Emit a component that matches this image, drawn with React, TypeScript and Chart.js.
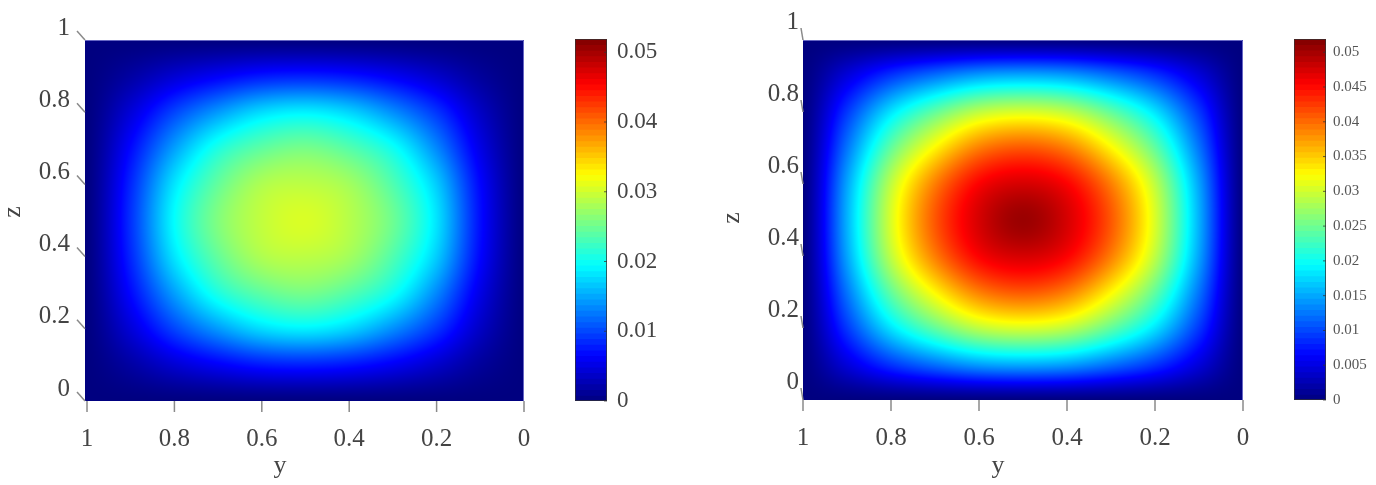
import React, { useEffect, useRef } from "react";
import { Chart, registerables } from "chart.js";
Chart.register(...registerables);

const FONT = "'Liberation Serif'";
const TEXT = "#444444";
const COLOR_MAX = 0.0519;
const LEVELS = 64;

const axisTicks = [0, 0.2, 0.4, 0.6, 0.8, 1];
const leftBarTicks = [0, 0.01, 0.02, 0.03, 0.04, 0.05];
const rightBarTicks = [0, 0.005, 0.01, 0.015, 0.02, 0.025, 0.03, 0.035, 0.04, 0.045, 0.05];

// rows: z = 1 ... 0 (step 0.1); columns: y = 1 ... 0 (step 0.1); values in 1e-3
const leftField = [
  [0, 0, 0, 0, 0, 0, 0, 0, 0, 0, 0],
  [0, 1.8, 4.2, 6.1, 7.6, 8, 7.4, 5.9, 3.8, 1.4, 0],
  [0, 4.5, 9.9, 14.3, 17.7, 18.8, 17.3, 13.7, 9.1, 3.5, 0],
  [0, 6.8, 14.6, 20.9, 24.25, 25.5, 23.75, 20.1, 13.4, 5.2, 0],
  [0, 8.35, 18.15, 24.5, 28.3, 29, 27.7, 23.5, 16.85, 6.65, 0],
  [0, 8.9, 19.5, 26, 29.3, 30.5, 28.7, 25, 18.1, 7.1, 0],
  [0, 8.35, 18.15, 24.5, 28.3, 29, 27.7, 23.5, 16.85, 6.65, 0],
  [0, 6.8, 14.6, 20.9, 24.25, 25.5, 23.75, 20.1, 13.4, 5.2, 0],
  [0, 4.5, 9.9, 14.3, 17.7, 18.8, 17.3, 13.7, 9.1, 3.5, 0],
  [0, 1.8, 4.2, 6.1, 7.6, 8, 7.4, 5.9, 3.8, 1.4, 0],
  [0, 0, 0, 0, 0, 0, 0, 0, 0, 0, 0],
];
const rightField = [
  [0, 0, 0, 0, 0, 0, 0, 0, 0, 0, 0],
  [0, 4.7, 9.2, 12.4, 14.8, 15.5, 14.8, 12.4, 9.2, 4.7, 0],
  [0, 9.2, 18.1, 24.4, 29.1, 30.5, 29.1, 24.4, 18.1, 9.2, 0],
  [0, 12.4, 24.4, 32.8, 39, 41, 39, 32.8, 24.4, 12.4, 0],
  [0, 14.8, 29.1, 39, 45.5, 47.5, 45.5, 39, 29.1, 14.8, 0],
  [0, 15.5, 30.5, 41, 47.5, 50.5, 47.5, 41, 30.5, 15.5, 0],
  [0, 14.8, 29.1, 39, 45.5, 47.5, 45.5, 39, 29.1, 14.8, 0],
  [0, 12.4, 24.4, 32.8, 39, 41, 39, 32.8, 24.4, 12.4, 0],
  [0, 9.2, 18.1, 24.4, 29.1, 30.5, 29.1, 24.4, 18.1, 9.2, 0],
  [0, 4.7, 9.2, 12.4, 14.8, 15.5, 14.8, 12.4, 9.2, 4.7, 0],
  [0, 0, 0, 0, 0, 0, 0, 0, 0, 0, 0],
];

function jet(t: number): [number, number, number] {
  const c = (x: number) => Math.max(0, Math.min(1, x));
  const r = c(Math.min(4 * t - 1.5, -4 * t + 4.5));
  const g = c(Math.min(4 * t - 0.5, -4 * t + 3.5));
  const b = c(Math.min(4 * t + 0.5, -4 * t + 2.5));
  return [Math.round(r * 255), Math.round(g * 255), Math.round(b * 255)];
}

function levelColor(i: number) {
  const [r, g, b] = jet((i + 0.5) / LEVELS);
  return `rgb(${r},${g},${b})`;
}

function cr(a: number, b: number, c: number, d: number, t: number) {
  return 0.5 * (2 * b + (c - a) * t + (2 * a - 5 * b + 4 * c - d) * t * t + (3 * b - a - 3 * c + d) * t * t * t);
}

function sampleField(f: number[][], col: number, row: number) {
  const n = f.length - 1;
  const m = f[0].length - 1;
  const c0 = Math.max(0, Math.min(m - 1, Math.floor(col)));
  const r0 = Math.max(0, Math.min(n - 1, Math.floor(row)));
  const tc = Math.max(0, Math.min(1, col - c0));
  const tr = Math.max(0, Math.min(1, row - r0));
  const at = (r: number, c: number) => f[Math.max(0, Math.min(n, r))][Math.max(0, Math.min(m, c))];
  const rows = [-1, 0, 1, 2].map((dr) =>
    cr(at(r0 + dr, c0 - 1), at(r0 + dr, c0), at(r0 + dr, c0 + 1), at(r0 + dr, c0 + 2), tc)
  );
  return Math.max(0, cr(rows[0], rows[1], rows[2], rows[3], tr));
}

const heatPlugin = {
  id: "heat",
  beforeDatasetsDraw(chart: any) {
    const { left, top, right, bottom } = chart.chartArea;
    const w = Math.round(right - left);
    const h = Math.round(bottom - top);
    const off = document.createElement("canvas");
    off.width = w;
    off.height = h;
    const octx = off.getContext("2d")!;
    const img = octx.createImageData(w, h);
    const field: number[][] = chart.data.datasets[0].field;
    const xs = chart.scales.x;
    const ys = chart.scales.y;
    const n = field.length - 1;
    const m = field[0].length - 1;
    for (let py = 0; py < h; py++) {
      const z = ys.getValueForPixel(top + py + 0.5);
      for (let px = 0; px < w; px++) {
        const yv = xs.getValueForPixel(left + px + 0.5);
        const v = sampleField(field, (1 - yv) * m, (1 - z) * n) / 1000;
        const [r, g, b] = jet(Math.min(1, v / COLOR_MAX));
        const k = (py * w + px) * 4;
        img.data[k] = r;
        img.data[k + 1] = g;
        img.data[k + 2] = b;
        img.data[k + 3] = 255;
      }
    }
    octx.putImageData(img, 0, 0);
    chart.ctx.drawImage(off, left, top);
  },
  afterDraw(chart: any, _a: any, opts: any) {
    const ctx = chart.ctx;
    const { left, top, right, bottom } = chart.chartArea;
    const xs = chart.scales.x;
    const ys = chart.scales.y;
    ctx.save();
    ctx.strokeStyle = "#6666c4";
    ctx.lineWidth = 1;
    ctx.beginPath();
    ctx.moveTo(left, top + 0.5);
    ctx.lineTo(right - 0.5, top + 0.5);
    ctx.lineTo(right - 0.5, bottom);
    ctx.stroke();
    ctx.strokeStyle = "#8a8a8a";
    ctx.lineWidth = 1.5;
    for (const t of axisTicks) {
      const x = xs.getPixelForValue(t);
      ctx.beginPath();
      ctx.moveTo(x, bottom);
      ctx.lineTo(x, bottom + 11);
      ctx.stroke();
      const y = ys.getPixelForValue(t);
      ctx.beginPath();
      ctx.moveTo(left, y);
      ctx.lineTo(left + opts.tickDx, y - opts.tickDy);
      ctx.stroke();
    }
    ctx.fillStyle = TEXT;
    ctx.font = `26px ${FONT}`;
    ctx.textAlign = "center";
    ctx.textBaseline = "middle";
    ctx.fillText("y", opts.yTitle[0], opts.yTitle[1]);
    ctx.translate(opts.zTitle[0], opts.zTitle[1]);
    ctx.rotate(-Math.PI / 2);
    ctx.fillText("z", 0, 0);
    ctx.restore();
  },
};

const barFramePlugin = {
  id: "barFrame",
  afterDraw(chart: any) {
    const ctx = chart.ctx;
    const { left, top, right, bottom } = chart.chartArea;
    const ys = chart.scales.y;
    ctx.save();
    ctx.strokeStyle = "rgba(50,50,50,0.75)";
    ctx.lineWidth = 1;
    ctx.strokeRect(left + 0.5, top + 0.5, right - left - 1, bottom - top - 1);
    for (const t of ys.ticks) {
      const y = ys.getPixelForValue(t.value);
      ctx.beginPath();
      ctx.moveTo(right, y);
      ctx.lineTo(right - 3, y);
      ctx.stroke();
    }
    ctx.restore();
  },
};

function heatConfig(field: number[][], o: any) {
  const points: { x: number; y: number; v: number }[] = [];
  field.forEach((row, r) =>
    row.forEach((v, c) => points.push({ x: 1 - c / (row.length - 1), y: 1 - r / (field.length - 1), v }))
  );
  return {
    type: "scatter",
    data: { datasets: [{ data: points, field, pointRadius: 0, showLine: false }] },
    plugins: [heatPlugin],
    options: {
      animation: false,
      responsive: false,
      devicePixelRatio: 1,
      layout: { padding: { top: o.top, right: o.right, left: 0, bottom: 0 } },
      plugins: {
        legend: { display: false },
        tooltip: { enabled: false },
        heat: { tickDx: o.tickDx, tickDy: o.tickDy, yTitle: o.yTitle, zTitle: o.zTitle },
      },
      scales: {
        x: {
          type: "linear",
          reverse: true,
          min: 0,
          max: o.xMax,
          afterBuildTicks: (s: any) => { s.ticks = axisTicks.map((value) => ({ value })); },
          afterFit: (s: any) => { s.height = o.bottom; },
          grid: { display: false, drawTicks: false },
          border: { display: false },
          ticks: {
            autoSkip: false, maxRotation: 0, padding: 23, color: TEXT,
            font: { family: FONT, size: 25 },
            callback: (v: number) => String(v),
          },
        },
        y: {
          type: "linear",
          min: 0,
          max: 1,
          afterBuildTicks: (s: any) => { s.ticks = axisTicks.map((value) => ({ value })); },
          afterFit: (s: any) => { s.width = o.leftW; },
          grid: { display: false, drawTicks: false },
          border: { display: false },
          ticks: {
            autoSkip: false, padding: o.yPad, labelOffset: o.labelOffset, color: TEXT,
            font: { family: FONT, size: 25 },
            callback: (v: number) => String(v),
          },
        },
      },
    },
  };
}

function barConfig(ticks: number[], o: any) {
  const step = COLOR_MAX / LEVELS;
  const datasets = Array.from({ length: LEVELS }, (_, i) => ({
    data: [[i * step, COLOR_MAX]],
    backgroundColor: levelColor(i),
    borderWidth: 0,
    grouped: false,
    barPercentage: 1,
    categoryPercentage: 1,
    order: -i,
  }));
  return {
    type: "bar",
    data: { labels: ["c"], datasets },
    plugins: [barFramePlugin],
    options: {
      animation: false,
      responsive: false,
      devicePixelRatio: 1,
      layout: { padding: { top: o.top, bottom: o.bottom, left: o.left, right: 0 } },
      plugins: { legend: { display: false }, tooltip: { enabled: false } },
      scales: {
        x: { display: false },
        y: {
          position: "right",
          min: 0,
          max: COLOR_MAX,
          afterBuildTicks: (s: any) => { s.ticks = ticks.map((value) => ({ value })); },
          afterFit: (s: any) => { s.width = o.rightW; },
          grid: { display: false, drawTicks: false },
          border: { display: false },
          ticks: {
            autoSkip: false, padding: o.pad, color: o.color,
            font: { family: FONT, size: o.size },
            callback: (v: number) => String(v),
          },
        },
      },
    },
  };
}

function Panel({ left, width, config }: { left: number; width: number; config: any }) {
  const ref = useRef<HTMLCanvasElement>(null);
  useEffect(() => {
    const chart = new Chart(ref.current!, config);
    return () => chart.destroy();
  }, []);
  return (
    <canvas
      ref={ref}
      width={width}
      height={485}
      style={{ position: "absolute", left, top: 0, width, height: 485, display: "block" }}
    />
  );
}

const leftHeat = heatConfig(leftField, {
  top: 40, right: 36, bottom: 84, leftW: 85, xMax: 1.0046, yPad: 15, labelOffset: -12,
  tickDx: -8, tickDy: 9, yTitle: [280, 466], zTitle: [13, 212],
});
const rightHeat = heatConfig(rightField, {
  top: 40, right: 57, bottom: 85, leftW: 103, xMax: 1, yPad: 4, labelOffset: -18,
  tickDx: -2, tickDy: 12, yTitle: [298, 466], zTitle: [32, 218],
});
const leftBar = barConfig(leftBarTicks, { top: 39, bottom: 84, left: 15, rightW: 93, pad: 10, size: 23, color: TEXT });
const rightBar = barConfig(rightBarTicks, { top: 39, bottom: 85, left: 14, rightW: 50, pad: 7, size: 15, color: "#555555" });

export default function App() {
  return (
    <div style={{ position: "fixed", left: 0, top: 0, width: 1376, height: 485, background: "#fff", overflow: "hidden" }}>
      <Panel left={0} width={560} config={leftHeat} />
      <Panel left={560} width={140} config={leftBar} />
      <Panel left={700} width={600} config={rightHeat} />
      <Panel left={1280} width={96} config={rightBar} />
    </div>
  );
}
